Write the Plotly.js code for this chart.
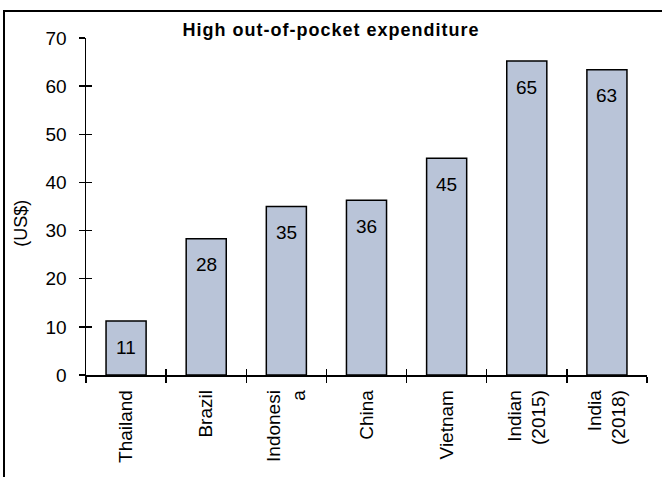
<!DOCTYPE html>
<html>
<head>
<meta charset="utf-8">
<script src="https://cdn.plot.ly/plotly-3.0.1.min.js"></script>
<style>
html,body{margin:0;padding:0;background:#fff;}
#wrap{position:relative;width:662px;height:477px;}
#chart{width:662px;height:477px;}
#frame{position:absolute;left:3px;top:10px;right:0;bottom:0;border-left:2px solid #000;border-top:2px solid #000;pointer-events:none;}
.gtitle{letter-spacing:1px;}
</style>
</head>
<body>
<div id="wrap"><div id="chart"></div><div id="frame"></div></div>
<script>
// Data
var categories = ["Thailand", "Brazil", "Indonesi<br>a", "China", "Vietnam", "Indian<br>(2015)", "India<br>(2018)"];
var values = [11.2, 28.3, 35.0, 36.3, 45.0, 65.2, 63.4];
var labels = ["11", "28", "35", "36", "45", "65", "63"];
var yTicks = [0, 10, 20, 30, 40, 50, 60, 70];

var FONT = "Arial, 'Liberation Sans', sans-serif";

var trace = {
  type: "bar",
  x: categories,
  y: values,
  width: 0.5,
  marker: {color: "#b9c4d8", line: {color: "#000", width: 1.5}},
  hoverinfo: "skip"
};
// empty helper trace so the overlaying tick axes (crossing ticks) get drawn
var tickHelper = {type: "scatter", x: [], y: [], xaxis: "x2", yaxis: "y2", hoverinfo: "skip", showlegend: false};

var annotations = categories.map(function(c, i){
  return {x: c, y: values[i], xref: "x", yref: "y", text: labels[i],
    showarrow: false, yanchor: "middle", yshift: -26,
    font: {family: FONT, size: 19, color: "#000"}};
});
annotations.push({
  text: "(US$)", xref: "paper", yref: "paper", x: -0.115, y: 0.45,
  xanchor: "center", yanchor: "middle", textangle: -90, showarrow: false,
  font: {family: FONT, size: 18, color: "#000"}
});

var axisCommon = {
  showgrid: false, zeroline: false, showline: true, linecolor: "#000", linewidth: 1.5,
  tickcolor: "#000", tickwidth: 1.5, ticklen: 6
};

var layout = {
  width: 662, height: 477,
  margin: {l: 86, r: 15, t: 38, b: 102},
  paper_bgcolor: "#fff", plot_bgcolor: "#fff",
  showlegend: false,
  font: {family: FONT, size: 19, color: "#000"},
  title: {text: "<b>High out-of-pocket expenditure</b>", xref: "container", yref: "container",
    x: 0.5, y: 1 - 30/477, xanchor: "center", yanchor: "middle",
    font: {family: FONT, size: 18, color: "#000"}},
  xaxis: Object.assign({}, axisCommon, {
    type: "category", ticks: "outside", tickson: "boundaries", tickangle: -90,
    ticklabelstandoff: 6,
    tickfont: {family: FONT, size: 19, color: "#000"}
  }),
  xaxis2: Object.assign({}, axisCommon, {
    type: "category", overlaying: "x", matches: "x", anchor: "y2", side: "bottom",
    ticks: "inside", tickson: "boundaries", showticklabels: false, showline: false
  }),
  yaxis: Object.assign({}, axisCommon, {
    range: [0, 70], tickvals: yTicks, ticks: "outside", ticklabelstandoff: 8,
    tickfont: {family: FONT, size: 19, color: "#000"}
  }),
  yaxis2: Object.assign({}, axisCommon, {
    range: [0, 70], tickvals: yTicks, overlaying: "y", matches: "y", anchor: "x2", side: "left",
    ticks: "inside", showticklabels: false, showline: false
  }),
  annotations: annotations,
  bargap: 0.5
};

Plotly.newPlot("chart", [trace, tickHelper], layout, {displayModeBar: false, staticPlot: true});
</script>
</body>
</html>
